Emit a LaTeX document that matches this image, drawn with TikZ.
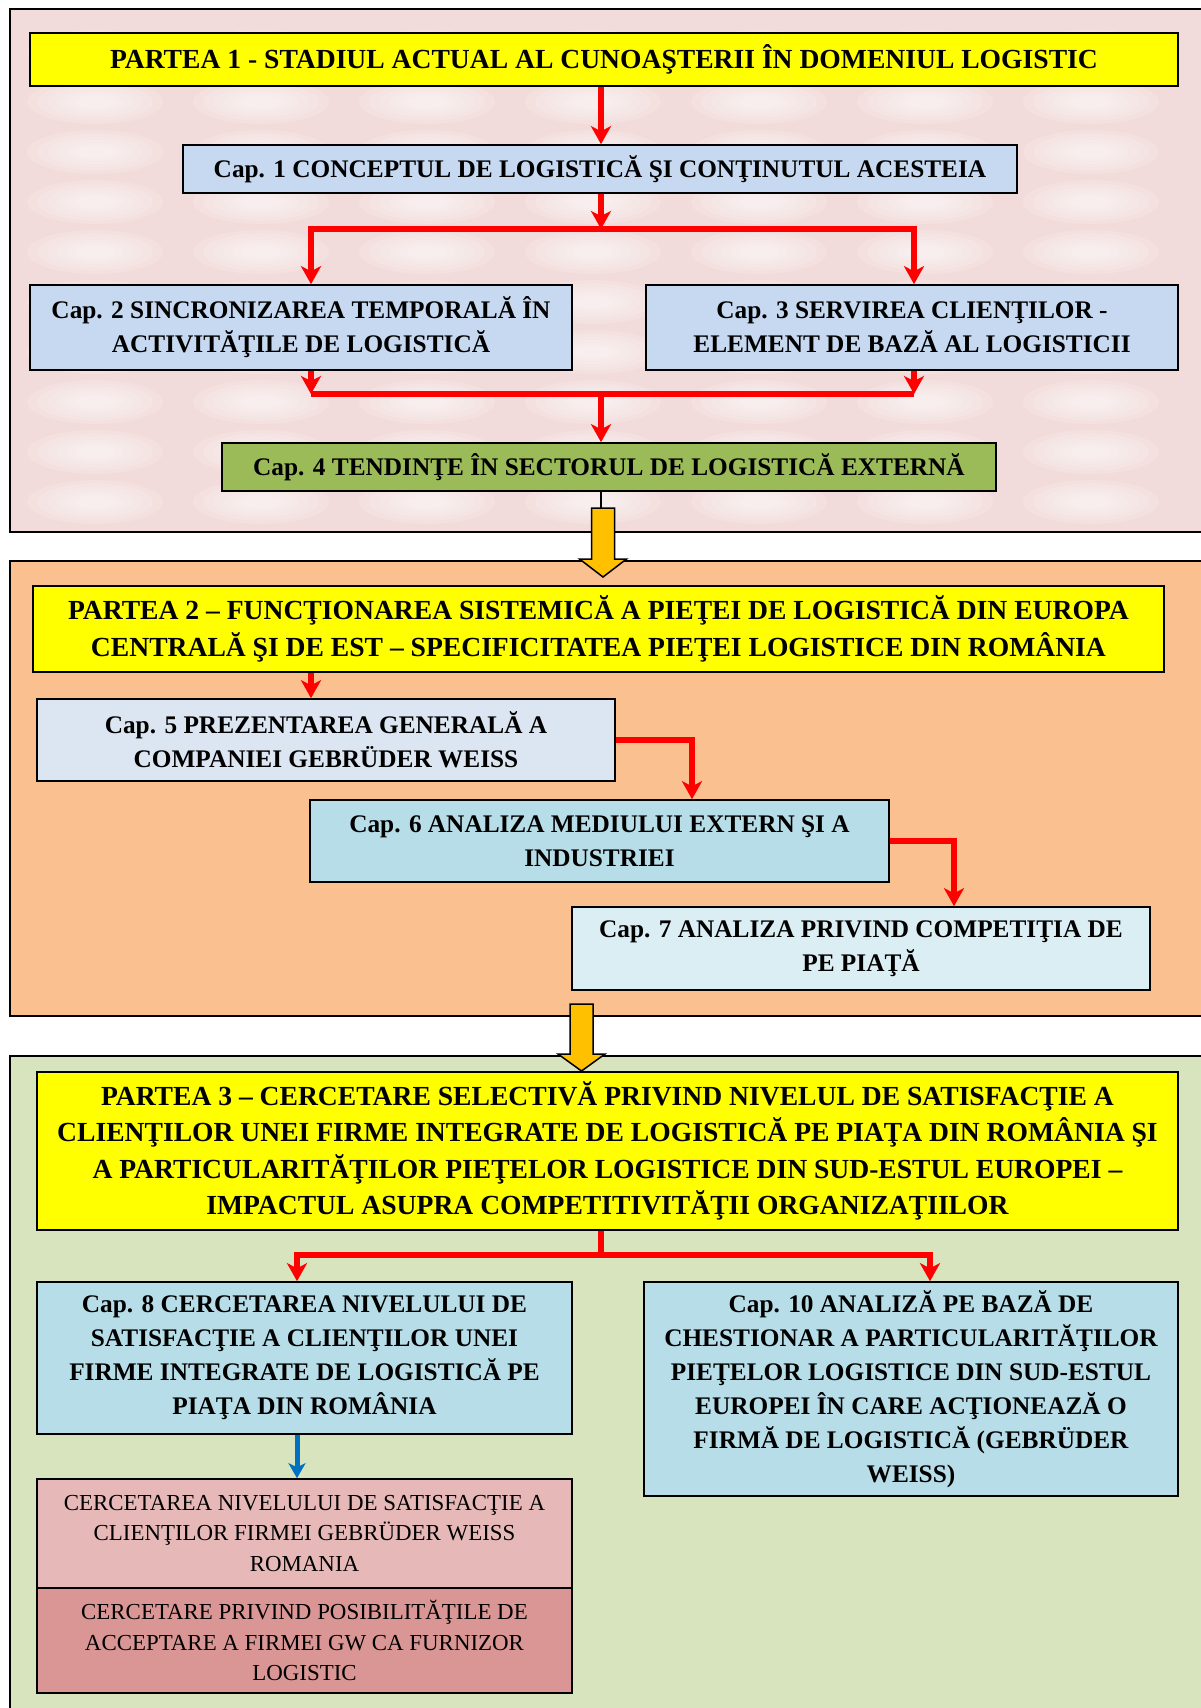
\documentclass[tikz,border=0pt]{standalone}
\usepackage{fontspec}
\setmainfont{Liberation Serif}
\usetikzlibrary{arrows.meta,calc}
\definecolor{pinkbg}{HTML}{F2DCDB}
\definecolor{orangebg}{HTML}{FAC090}
\definecolor{greenbg}{HTML}{D7E4BD}
\definecolor{titleyellow}{HTML}{FFFF00}
\definecolor{capblue}{HTML}{C6D9F1}
\definecolor{capgreen}{HTML}{9BBB59}
\definecolor{cappale}{HTML}{DCE6F2}
\definecolor{capcyan}{HTML}{B7DEE8}
\definecolor{caplight}{HTML}{DBEEF4}
\definecolor{pinkone}{HTML}{E6B9B8}
\definecolor{pinktwo}{HTML}{D99694}
\definecolor{gold}{HTML}{FFC000}
\definecolor{arrowblue}{HTML}{0070C0}
\newcommand{\myblockarrow}[5]{% name, x, ytop, yhead, ytip
  \coordinate (#1) at (#2,#3);
  \draw[goldarr] ($(#1)+(-11.5,0)$) -- ($(#1)+(11.5,0)$) -- ($(#1)+(11.5,#4-#3)$) -- ($(#1)+(23.5,#4-#3)$) -- ($(#1)+(0,#5-#3)$) -- ($(#1)+(-23.5,#4-#3)$) -- ($(#1)+(-11.5,#4-#3)$) -- cycle;}
\begin{document}
\begin{tikzpicture}[x=1pt,y=-1pt,
  box/.style={draw=black, line width=1.6pt, inner sep=0pt, align=center, anchor=center},
  titlebox/.style={box, fill=titleyellow, font=\fontsize{27.6}{36.4}\selectfont\bfseries},
  capbox/.style={box, font=\fontsize{25.3}{33.9}\selectfont\bfseries},
  subbox/.style={box, font=\fontsize{22.9}{30.5}\selectfont},
  panel/.style={draw=black, line width=1.5pt},
  redline/.style={draw=red, line width=5.5pt, line join=miter},
  redarr/.style={redline, -{Stealth[length=18pt,width=20pt,inset=5pt]}},
  redboth/.style={redline, {Stealth[length=18pt,width=20pt,inset=5pt]}-{Stealth[length=18pt,width=20pt,inset=5pt]}},
  bluearr/.style={draw=arrowblue, line width=5pt, -{Stealth[length=15pt,width=17pt,inset=4pt]}},
  goldarr/.style={fill=gold, draw=black, line width=1.5pt, line join=miter},
  blob/.style={fill=white, fill opacity=0.13}
]
\useasboundingbox (0,0) rectangle (1201,1708);
\fill[white] (0,0) rectangle (1201,1708);
\begin{scope}
\clip (0,0) rectangle (1201,1708);
% ---------- panel 1 ----------
\fill[pinkbg] (10,9) rectangle (1230,532);
\begin{scope}
\clip (10,9) rectangle (1230,532);
\foreach \bx in {95,261,427,593,759,925,1091}
  \foreach \by in {52,102,152,202,252,302,352,402,452,502}
    \foreach \r in {1.0,0.85,0.7,0.55,0.42,0.3}
      \fill[blob] (\bx,\by) ellipse ({68*\r} and {22*\r});
\end{scope}
\draw[panel] (1230,9) -- (10,9) -- (10,532) -- (1230,532);
% ---------- panel 2 ----------
\fill[orangebg] (10,561) rectangle (1230,1016);
\draw[panel] (1230,561) -- (10,561) -- (10,1016) -- (1230,1016);
% ---------- panel 3 ----------
\fill[greenbg] (10,1056) rectangle (1230,1730);
\draw[panel] (1230,1056) -- (10,1056) -- (10,1730);

% x positions
\coordinate (xm) at (601,0);
\coordinate (xl) at (311,0);
\coordinate (xr) at (914,0);
\coordinate (x5) at (692,0);
\coordinate (x6) at (954,0);
\coordinate (xl3) at (297,0);
\coordinate (xr3) at (930,0);

% ---------- nodes ----------
\node[titlebox, minimum width=1148pt, minimum height=53pt] (title1) at (604,59.5)
  {PARTEA 1 - STADIUL ACTUAL AL CUNOAŞTERII ÎN DOMENIUL LOGISTIC};
\node[capbox, fill=capblue, minimum width=834pt, minimum height=48pt] (cap1) at (600,169)
  {Cap. 1 CONCEPTUL DE LOGISTICĂ ŞI CONŢINUTUL ACESTEIA};
\node[capbox, fill=capblue, minimum width=542pt, minimum height=85pt] (cap2) at (301,327.5)
  {Cap. 2 SINCRONIZAREA TEMPORALĂ ÎN\\ACTIVITĂŢILE DE LOGISTICĂ};
\node[capbox, fill=capblue, minimum width=532pt, minimum height=85pt] (cap3) at (912,327.5)
  {Cap. 3 SERVIREA CLIENŢILOR -\\ELEMENT DE BAZĂ AL LOGISTICII};
\node[capbox, fill=capgreen, minimum width=774pt, minimum height=48pt] (cap4) at (609,467)
  {Cap. 4 TENDINŢE ÎN SECTORUL DE LOGISTICĂ EXTERNĂ};

\node[titlebox, minimum width=1131pt, minimum height=86pt] (title2) at (598.5,629)
  {PARTEA 2 – FUNCŢIONAREA SISTEMICĂ A PIEŢEI DE LOGISTICĂ DIN EUROPA\\CENTRALĂ ŞI DE EST – SPECIFICITATEA PIEŢEI LOGISTICE DIN ROMÂNIA};
\node[capbox, fill=cappale, minimum width=578pt, minimum height=82pt] (cap5) at (326,740)
  {Cap. 5 PREZENTAREA GENERALĂ A\\COMPANIEI GEBRÜDER WEISS};
\node[capbox, fill=capcyan, minimum width=579pt, minimum height=82pt] (cap6) at (599.5,841)
  {Cap. 6 ANALIZA MEDIULUI EXTERN ŞI A\\INDUSTRIEI};
\node[capbox, fill=caplight, minimum width=578pt, minimum height=83pt] (cap7) at (861,948.5)
  {Cap. 7 ANALIZA PRIVIND COMPETIŢIA DE\\PE PIAŢĂ};

\node[titlebox, minimum width=1141pt, minimum height=158pt] (title3) at (607.5,1151)
  {PARTEA 3 – CERCETARE SELECTIVĂ PRIVIND NIVELUL DE SATISFACŢIE A\\CLIENŢILOR UNEI FIRME INTEGRATE DE LOGISTICĂ PE PIAŢA DIN ROMÂNIA ŞI\\A PARTICULARITĂŢILOR PIEŢELOR LOGISTICE DIN SUD-ESTUL EUROPEI –\\IMPACTUL ASUPRA COMPETITIVITĂŢII ORGANIZAŢIILOR};
\node[capbox, fill=capcyan, minimum width=535pt, minimum height=152pt] (cap8) at (304.5,1358)
  {Cap. 8 CERCETAREA NIVELULUI DE\\SATISFACŢIE A CLIENŢILOR UNEI\\FIRME INTEGRATE DE LOGISTICĂ PE\\PIAŢA DIN ROMÂNIA};
\node[capbox, fill=capcyan, minimum width=534pt, minimum height=214pt] (cap10) at (911,1389)
  {Cap. 10 ANALIZĂ PE BAZĂ DE\\CHESTIONAR A PARTICULARITĂŢILOR\\PIEŢELOR LOGISTICE DIN SUD-ESTUL\\EUROPEI ÎN CARE ACŢIONEAZĂ O\\FIRMĂ DE LOGISTICĂ (GEBRÜDER\\WEISS)};
\node[subbox, fill=pinkone, minimum width=535pt, minimum height=109pt] (sub1) at (304.5,1533.5)
  {CERCETAREA NIVELULUI DE SATISFACŢIE A\\CLIENŢILOR FIRMEI GEBRÜDER WEISS\\ROMANIA};
\node[subbox, fill=pinktwo, minimum width=535pt, minimum height=105pt] (sub2) at (304.5,1640.5)
  {CERCETARE PRIVIND POSIBILITĂŢILE DE\\ACCEPTARE A FIRMEI GW CA FURNIZOR\\LOGISTIC};

% ---------- connectors, part 1 ----------
\coordinate (b1) at (601,229);
\coordinate (b1l) at (311,229);
\coordinate (b1r) at (914,229);
\coordinate (m1) at (601,394);
\coordinate (m1l) at (311,394);
\coordinate (m1r) at (914,394);
\draw[redarr] (title1.south -| xm) -- (cap1.north -| xm);
\draw[redarr] (cap1.south -| xm) -- (b1);
\draw[redboth] (cap2.north -| xl) -- (b1l) -- (b1r) -- (cap3.north -| xr);
\draw[redarr] (cap2.south -| xl) -- (m1l);
\draw[redarr] (cap3.south -| xr) -- (m1r);
\draw[redline] (m1l) -- (m1r);
\draw[redarr] (m1) -- (cap4.north -| xm);

% ---------- connectors, part 2 ----------
\draw[redarr] (title2.south -| xl) -- (cap5.north -| xl);
\draw[redarr] (cap5.east) -| (cap6.north -| x5);
\draw[redarr] (cap6.east) -| (cap7.north -| x6);

% ---------- connectors, part 3 ----------
\coordinate (b3) at (601,1255);
\coordinate (b3l) at (297,1255);
\coordinate (b3r) at (930,1255);
\draw[redline] (title3.south -| xm) -- (b3);
\draw[redboth] (cap8.north -| xl3) -- (b3l) -- (b3r) -- (cap10.north -| xr3);
\draw[bluearr] (cap8.south -| xl3) -- (sub1.north -| xl3);

% ---------- block arrows between parts ----------
\coordinate (g1top) at (603,508);
\draw[black, line width=1.2pt] (cap4.south -| xm) -- (g1top -| xm);
\myblockarrow{g1}{603}{508}{559}{577}
\myblockarrow{g2}{581.5}{1004}{1054}{1071}
\end{scope}
\end{tikzpicture}
\end{document}
